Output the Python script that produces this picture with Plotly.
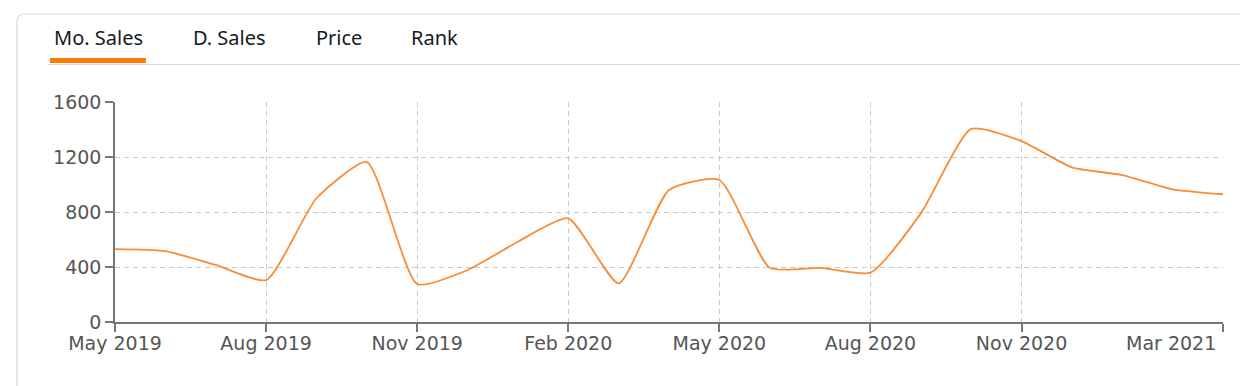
import plotly.graph_objects as go

# ---- data ----
months = ["May 2019", "Jun 2019", "Jul 2019", "Aug 2019", "Sep 2019", "Oct 2019",
          "Nov 2019", "Dec 2019", "Jan 2020", "Feb 2020", "Mar 2020", "Apr 2020",
          "May 2020", "Jun 2020", "Jul 2020", "Aug 2020", "Sep 2020", "Oct 2020",
          "Nov 2020", "Dec 2020", "Jan 2021", "Feb 2021", "Mar 2021"]
mo_sales = [530, 515, 415, 305, 900, 1163, 276, 378, 584, 754, 281, 960,
            1033, 395, 394, 359, 790, 1404, 1316, 1125, 1069, 965, 929]
tick_months = ["May 2019", "Aug 2019", "Nov 2019", "Feb 2020", "May 2020",
               "Aug 2020", "Nov 2020", "Mar 2021"]
y_ticks = [0, 400, 800, 1200, 1600]
tabs = ["Mo. Sales", "D. Sales", "Price", "Rank"]

# ---- geometry (page pixels; the page body has an 8px margin) ----
OFF = 8
W, H = 1248 - OFF, 386 - OFF
L, R, T, B = 115, 1223, 102, 322  # plot area in page pixels


def px(x):
    return (x - L) / (R - L)


def py(y):
    return (B - y) / (B - T)


x_idx = list(range(len(months)))
tickvals = [months.index(m) for m in tick_months]
ticktext = tick_months[:-1] + [""]

fig = go.Figure()
fig.add_trace(go.Scatter(
    x=x_idx, y=mo_sales, mode="lines",
    line=dict(color="#FA8C35", width=1.8, shape="spline", smoothing=0.55),
    hoverinfo="skip", showlegend=False,
))

grid = "#CACACA"
axis_col = "#777777"
tick_font = dict(family="DejaVu Sans", size=19, color="#555555")

fig.update_layout(
    width=W, height=H,
    margin=dict(l=L - OFF, r=W + OFF - R, t=T - OFF, b=H + OFF - B),
    paper_bgcolor="white", plot_bgcolor="white",
    xaxis=dict(
        range=[0, len(months) - 1], tickmode="array", tickvals=tickvals, ticktext=ticktext,
        showgrid=True, gridcolor=grid, griddash="5px,4px", gridwidth=1.2,
        showline=True, linecolor=axis_col, linewidth=1.5,
        ticks="outside", ticklen=8, tickcolor=axis_col, tickwidth=1.5,
        ticklabelstandoff=-5,
        tickfont=tick_font, zeroline=False, fixedrange=True,
    ),
    yaxis=dict(
        range=[0, 1600], tickmode="array", tickvals=y_ticks,
        showgrid=True, gridcolor=grid, griddash="5px,4px", gridwidth=1.2,
        showline=True, linecolor=axis_col, linewidth=1.5,
        ticks="outside", ticklen=8, tickcolor=axis_col, tickwidth=1.5,
        tickfont=tick_font, zeroline=False, fixedrange=True,
    ),
)

shapes = []
# card border (top + left with rounded corner)
r = 8
x0, y0 = 17, 14
path = (f"M {px(x0)} {py(400)} L {px(x0)} {py(y0 + r)} "
        f"Q {px(x0)} {py(y0)} {px(x0 + r)} {py(y0)} L {px(1260)} {py(y0)}")
shapes.append(dict(type="path", xref="paper", yref="paper", path=path,
                   line=dict(color="#D5DBDB", width=1.2)))
# separator under tabs
shapes.append(dict(type="line", xref="paper", yref="paper",
                   x0=px(48), x1=px(1260), y0=py(64.5), y1=py(64.5),
                   line=dict(color="#D5DBDB", width=1.2)))
# orange active-tab underline
shapes.append(dict(type="line", xref="paper", yref="paper",
                   x0=px(50), x1=px(146), y0=py(60.5), y1=py(60.5),
                   line=dict(color="#FF7A00", width=5)))
fig.update_layout(shapes=shapes)

annotations = []
tab_centers = [98, 229.5, 338.5, 434.5]
for t, cx in zip(tabs, tab_centers):
    annotations.append(dict(
        text=t, x=px(cx), y=py(37), xref="paper", yref="paper",
        xanchor="center", yanchor="middle", showarrow=False,
        font=dict(family="Noto Sans", size=20, color="#16191F"),
    ))
# last x tick label, right-aligned so it stays inside the card
annotations.append(dict(
    text=tick_months[-1], x=px(1218), y=py(343), xref="paper", yref="paper",
    xanchor="right", yanchor="middle", showarrow=False, font=tick_font,
))
fig.update_layout(annotations=annotations)

fig.write_html("out.html")
